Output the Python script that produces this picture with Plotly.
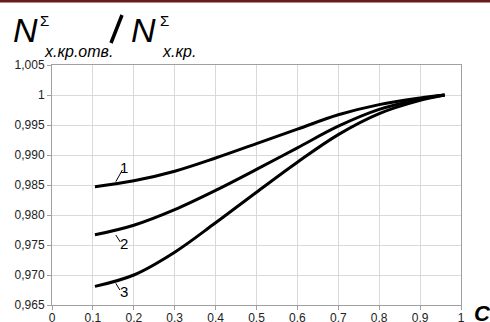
import plotly.graph_objects as go

c_vals = [0.105, 0.2, 0.3, 0.4, 0.5, 0.6, 0.7, 0.8, 0.9, 0.96]
curve1 = [0.9847, 0.9857, 0.9873, 0.9895, 0.9919, 0.9943, 0.9967, 0.9984, 0.9995, 1.0]
curve2 = [0.9767, 0.9783, 0.9809, 0.9841, 0.9876, 0.9912, 0.9948, 0.9976, 0.9993, 1.0]
curve3 = [0.9681, 0.9700, 0.9738, 0.9787, 0.9838, 0.9888, 0.9934, 0.9969, 0.9991, 1.0]

y_ticks = [0.965, 0.970, 0.975, 0.980, 0.985, 0.990, 0.995, 1.0, 1.005]
y_ticktext = ["0,965", "0,970", "0,975", "0,980", "0,985", "0,990", "0,995", "1", "1,005"]
x_ticks = [0, 0.1, 0.2, 0.3, 0.4, 0.5, 0.6, 0.7, 0.8, 0.9, 1]
x_ticktext = ["0", "0.1", "0.2", "0.3", "0.4", "0.5", "0.6", "0.7", "0.8", "0.9", "1"]

curve_labels = ["1", "2", "3"]
label_pos = [(0.177, 0.9880), (0.177, 0.97517), (0.177, 0.96722)]
leader_lines = [(0.156, 0.98556, 0.172, 0.98750),
                (0.156, 0.97667, 0.167, 0.97550),
                (0.156, 0.96861, 0.166, 0.96750)]

FONT = "Liberation Sans Narrow, Liberation Sans, Arial, sans-serif"

fig = go.Figure()
for ys in (curve1, curve2, curve3):
    fig.add_trace(go.Scatter(x=c_vals, y=ys, mode="lines",
                             line=dict(color="black", width=3, shape="spline", smoothing=1),
                             showlegend=False, hoverinfo="skip"))

for (x0, y0, x1, y1) in leader_lines:
    fig.add_shape(type="line", x0=x0, y0=y0, x1=x1, y1=y1,
                  line=dict(color="black", width=1))
for txt, (xx, yy) in zip(curve_labels, label_pos):
    fig.add_annotation(x=xx, y=yy, text=txt, showarrow=False,
                       font=dict(family=FONT, size=15, color="black"))

axis_common = dict(showgrid=True, gridcolor="#d9d9d9", gridwidth=1,
                   showline=True, linecolor="#a0a0a0", linewidth=1, mirror=True,
                   ticks="outside", ticklen=4, tickcolor="#a0a0a0",
                   tickfont=dict(family=FONT, size=12, color="#222"),
                   zeroline=False, automargin=False)

fig.update_layout(
    width=490, height=322,
    margin=dict(l=52, r=29, t=65, b=17, autoexpand=False),
    paper_bgcolor="white", plot_bgcolor="white",
    xaxis=dict(range=[0, 1], tickvals=x_ticks, ticktext=x_ticktext,
               ticklabelstandoff=-2, **axis_common),
    yaxis=dict(range=[0.965, 1.005], tickvals=y_ticks, ticktext=y_ticktext, **axis_common),
)

W, H = 409, 240
def px(x):
    return (x - 52) / W
def py(y):
    return (305 - y) / H

# dark red top bar
fig.add_shape(type="rect", xref="paper", yref="paper", x0=px(0), x1=px(490),
              y0=py(2.5), y1=py(-1), fillcolor="#6b1a1a", line=dict(width=0), layer="above")

# title pieces
def ann(text, x, y, size, italic=True, bold=False, xanchor="left"):
    t = text
    if italic:
        t = "<i>" + t + "</i>"
    if bold:
        t = "<b>" + t + "</b>"
    fig.add_annotation(xref="paper", yref="paper", x=px(x), y=py(y),
                       text=t, showarrow=False, xanchor=xanchor, yanchor="middle",
                       font=dict(family=FONT, size=size, color="black"))

ann("N", 11, 30, 34)
ann("Σ", 38, 20, 15, italic=False)
ann("х.кр.отв.", 42, 51, 16)
fig.add_shape(type="line", xref="paper", yref="paper",
              x0=px(111), y0=py(43), x1=px(122), y1=py(15),
              line=dict(color="black", width=3.5))
ann("N", 129, 30, 34)
ann("Σ", 158, 20, 15, italic=False)
ann("х.кр.", 160, 51, 16)
ann("C", 482, 313, 22, italic=True, bold=True, xanchor="center")

fig.write_html("out.html")
